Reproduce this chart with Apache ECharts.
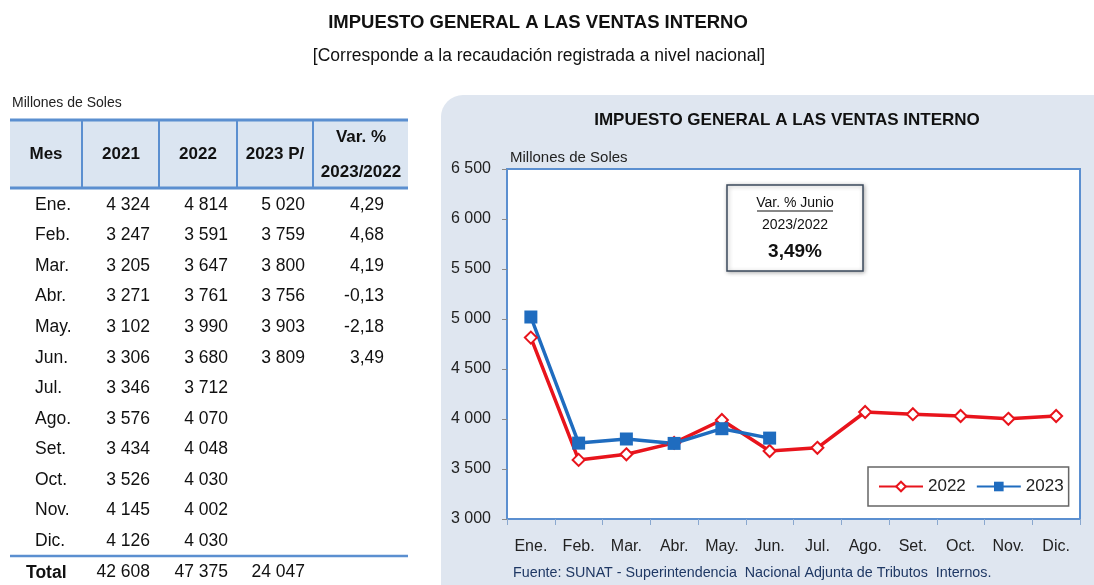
<!DOCTYPE html>
<html><head><meta charset="utf-8">
<script src="https://cdn.jsdelivr.net/npm/echarts@6/dist/echarts.min.js"></script>
<style>html,body{margin:0;padding:0;background:#fff}#c{width:1094px;height:585px}</style>
</head><body><div id="c"></div>
<script>
const months = ['Ene.','Feb.','Mar.','Abr.','May.','Jun.','Jul.','Ago.','Set.','Oct.','Nov.','Dic.'];
const v2021 = [4324,3247,3205,3271,3102,3306,3346,3576,3434,3526,4145,4126];
const v2022 = [4814,3591,3647,3761,3990,3680,3712,4070,4048,4030,4002,4030];
const v2023 = [5020,3759,3800,3756,3903,3809];
const varPct = [4.29,4.68,4.19,-0.13,-2.18,3.49];
const totals = [42608,47375,24047];
const headers = ['Mes','2021','2022','2023 P/'];
const yTicks = {min:3000,max:6500,interval:500};

const NARROW = '"Liberation Sans",Arial,sans-serif';
const SANS = '"Liberation Sans",Arial,sans-serif';
const BLUE = '#5b8fd0';

function fmt(n){ return String(n).replace(/\B(?=(\d{3})+(?!\d))/g,' '); }
function fmtPct(n){ return n.toFixed(2).replace('.',','); }

const g = [];
// page titles
g.push({type:'text',style:{text:'IMPUESTO GENERAL A LAS VENTAS INTERNO',x:538,y:23,align:'center',verticalAlign:'middle',font:'bold 18.5px '+SANS,fill:'#111'}});
g.push({type:'text',style:{text:'[Corresponde a la recaudación registrada a nivel nacional]',x:539,y:56,align:'center',verticalAlign:'middle',font:'17.5px '+SANS,fill:'#111'}});

// table
g.push({type:'text',style:{text:'Millones de Soles',x:12,y:103,align:'left',verticalAlign:'middle',font:'14px '+NARROW,fill:'#222'}});
g.push({type:'rect',shape:{x:10,y:119,width:398,height:69},style:{fill:'#dbe5f1'}});
g.push({type:'line',shape:{x1:10,y1:120,x2:408,y2:120},style:{stroke:BLUE,lineWidth:3}});
g.push({type:'line',shape:{x1:10,y1:188,x2:408,y2:188},style:{stroke:BLUE,lineWidth:3}});
[82,159,237,313].forEach(x=>g.push({type:'line',shape:{x1:x,y1:120,x2:x,y2:188},style:{stroke:BLUE,lineWidth:2}}));
const hx = [46,121,198,275];
headers.forEach((h,i)=>g.push({type:'text',style:{text:h,x:hx[i],y:154,align:'center',verticalAlign:'middle',font:'bold 17px '+NARROW,fill:'#111'}}));
g.push({type:'text',style:{text:'Var. %',x:361,y:137,align:'center',verticalAlign:'middle',font:'bold 17px '+NARROW,fill:'#111'}});
g.push({type:'text',style:{text:'2023/2022',x:361,y:172,align:'center',verticalAlign:'middle',font:'bold 17px '+NARROW,fill:'#111'}});
const cellFont = '17.5px '+NARROW;
months.forEach((m,i)=>{
  const y = 205 + i*30.55;
  g.push({type:'text',style:{text:m,x:35,y:y,align:'left',verticalAlign:'middle',font:cellFont,fill:'#111'}});
  g.push({type:'text',style:{text:fmt(v2021[i]),x:150,y:y,align:'right',verticalAlign:'middle',font:cellFont,fill:'#111'}});
  g.push({type:'text',style:{text:fmt(v2022[i]),x:228,y:y,align:'right',verticalAlign:'middle',font:cellFont,fill:'#111'}});
  if(i<v2023.length){
    g.push({type:'text',style:{text:fmt(v2023[i]),x:305,y:y,align:'right',verticalAlign:'middle',font:cellFont,fill:'#111'}});
    g.push({type:'text',style:{text:fmtPct(varPct[i]),x:384,y:y,align:'right',verticalAlign:'middle',font:cellFont,fill:'#111'}});
  }
});
g.push({type:'line',shape:{x1:10,y1:556,x2:408,y2:556},style:{stroke:BLUE,lineWidth:2.5}});
g.push({type:'text',style:{text:'Total',x:26,y:573,align:'left',verticalAlign:'middle',font:'bold 17.5px '+NARROW,fill:'#111'}});
[150,228,305].forEach((x,i)=>g.push({type:'text',style:{text:fmt(totals[i]),x:x,y:572,align:'right',verticalAlign:'middle',font:cellFont,fill:'#111'}}));

// chart panel
g.push({type:'rect',z:-10,shape:{x:441,y:95,width:700,height:530,r:22},style:{fill:'#dfe6f0'}});
g.push({type:'text',style:{text:'IMPUESTO GENERAL A LAS VENTAS INTERNO',x:787,y:120,align:'center',verticalAlign:'middle',font:'bold 17px '+SANS,fill:'#111'}});
g.push({type:'text',style:{text:'Millones de Soles',x:510,y:158,align:'left',verticalAlign:'middle',font:'15px '+NARROW,fill:'#222'}});
g.push({type:'text',style:{text:'Fuente: SUNAT - Superintendencia  Nacional Adjunta de Tributos  Internos.',x:513,y:573,align:'left',verticalAlign:'middle',font:'14.3px '+NARROW,fill:'#1f3864'}});
// annotation box
g.push({type:'rect',z:20,shape:{x:727,y:185,width:136,height:86},style:{fill:'#fff',stroke:'#3b4a5c',lineWidth:1.5,shadowBlur:4,shadowColor:'rgba(0,0,0,0.3)',shadowOffsetX:1,shadowOffsetY:1}});
g.push({type:'text',z:21,style:{text:'Var. % Junio',x:795,y:203,align:'center',verticalAlign:'middle',font:'14px '+NARROW,fill:'#111'}});
g.push({type:'line',z:21,shape:{x1:757,y1:211,x2:833,y2:211},style:{stroke:'#111',lineWidth:1.2}});
g.push({type:'text',z:21,style:{text:'2023/2022',x:795,y:225,align:'center',verticalAlign:'middle',font:'14px '+NARROW,fill:'#111'}});
g.push({type:'text',z:21,style:{text:'3,49%',x:795,y:252,align:'center',verticalAlign:'middle',font:'bold 19px '+SANS,fill:'#111'}});

const chart = echarts.init(document.getElementById('c'));
chart.setOption({
  backgroundColor:'#fff',
  animation:false,
  graphic:g,
  grid:{left:507,top:169,width:573,height:350,show:true,backgroundColor:'#fff',borderColor:BLUE,borderWidth:2},
  legend:{left:868,top:467,padding:[11,5,11,10],backgroundColor:'#fff',borderColor:'#666',borderWidth:1.5,
    itemWidth:44,itemHeight:12,itemGap:10,
    textStyle:{fontFamily:NARROW,fontSize:17,color:'#222'},data:['2022','2023']},
  xAxis:{type:'category',data:months,boundaryGap:true,
    axisLine:{lineStyle:{color:BLUE,width:2}},
    axisTick:{show:true,interval:0,length:6,lineStyle:{color:'#8aa8cf'}},
    axisLabel:{margin:20,fontFamily:NARROW,fontSize:16,color:'#222',interval:0}},
  yAxis:{type:'value',min:yTicks.min,max:yTicks.max,interval:yTicks.interval,
    axisLine:{show:true,lineStyle:{color:BLUE,width:2}},
    axisTick:{show:true,length:5,lineStyle:{color:'#8a8a8a'}},
    splitLine:{show:false},
    axisLabel:{margin:16,fontFamily:NARROW,fontSize:16,color:'#222',formatter:v=>fmt(v)}},
  series:[
    {name:'2022',type:'line',data:v2022,symbol:'diamond',symbolSize:12,
      lineStyle:{color:'#e8141c',width:3.5},itemStyle:{color:'#fff',borderColor:'#e8141c',borderWidth:2}},
    {name:'2023',type:'line',data:v2023,symbol:'rect',symbolSize:13,
      lineStyle:{color:'#1f6cbf',width:3.5},itemStyle:{color:'#1f6cbf'}}
  ]
});
</script></body></html>
